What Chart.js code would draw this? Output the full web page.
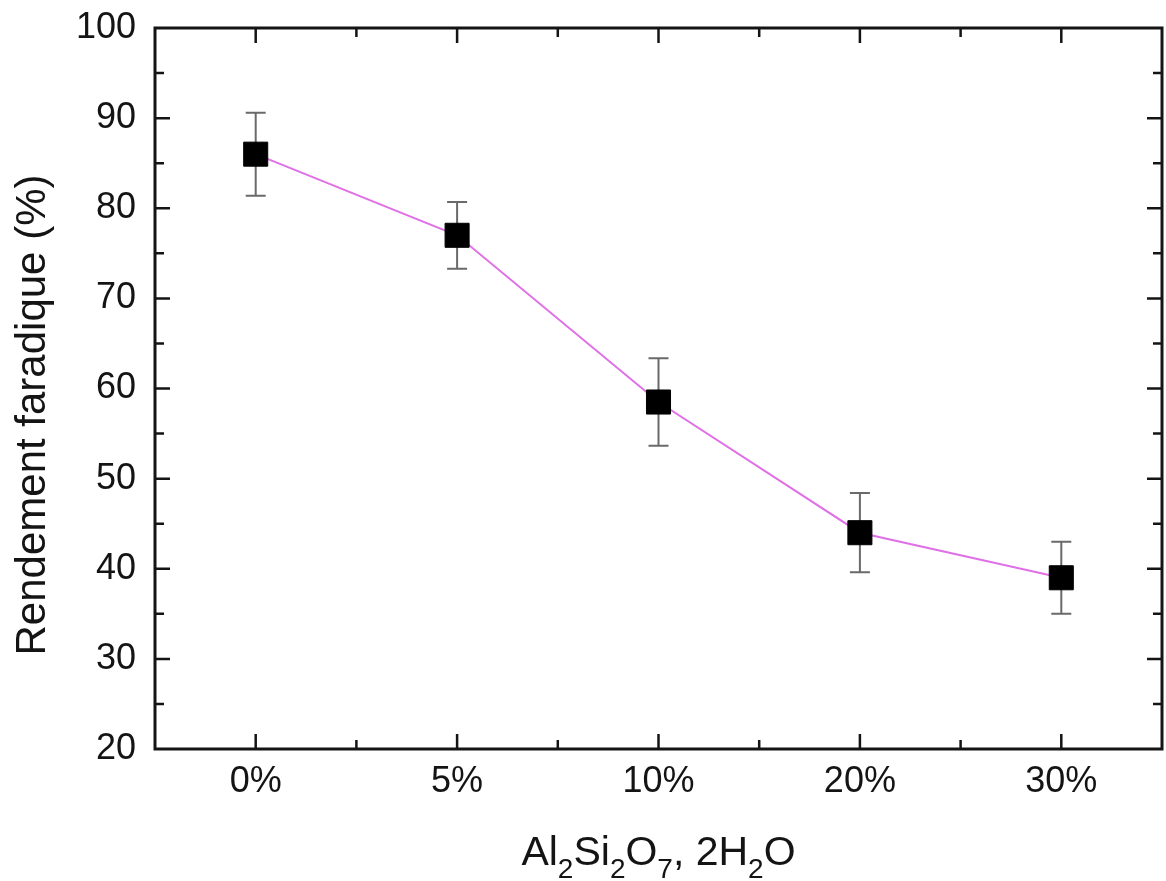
<!DOCTYPE html>
<html>
<head>
<meta charset="utf-8">
<script src="https://cdn.jsdelivr.net/npm/chart.js@4"></script>
<style>
  html, body { margin: 0; padding: 0; background: #fff; overflow: hidden; }
  #wrap { width: 1166px; height: 881px; }
  canvas { display: block; }
</style>
</head>
<body>
<div id="wrap"><canvas id="yield-chart" width="1166" height="881"></canvas></div>
<script>
const categories = ["0%", "5%", "10%", "20%", "30%"];
const yieldValues = [86, 77, 58.5, 44, 39];
const yieldErrors = [4.6, 3.7, 4.85, 4.4, 4];
const yMin = 20;
const yMax = 100;
const yStep = 10;

const FONT = "'Liberation Sans', Arial, sans-serif";
const INK = "#141414";

// error bars, drawn between the line and the square markers
const errorBars = {
  id: "errorBars",
  beforeDatasetDraw(chart, args) {
    if (args.index !== 0) return;
    const { ctx, scales } = chart;
    ctx.save();
    ctx.strokeStyle = "#6a6a6a";
    ctx.lineWidth = 2;
    yieldValues.forEach((v, i) => {
      const px = scales.x.getPixelForValue(i);
      const top = scales.y.getPixelForValue(v + yieldErrors[i]);
      const bot = scales.y.getPixelForValue(v - yieldErrors[i]);
      ctx.beginPath();
      ctx.moveTo(px, top);
      ctx.lineTo(px, bot);
      ctx.moveTo(px - 10, top);
      ctx.lineTo(px + 10, top);
      ctx.moveTo(px - 10, bot);
      ctx.lineTo(px + 10, bot);
      ctx.stroke();
    });
    ctx.restore();
  },
};

// closed frame with inward ticks on all four sides, plus the axis titles
const frame = {
  id: "frame",
  afterDraw(chart) {
    const { ctx, chartArea: a, scales } = chart;
    ctx.save();
    ctx.strokeStyle = INK;
    ctx.lineWidth = 3;
    ctx.strokeRect(a.left, a.top, a.right - a.left, a.bottom - a.top);

    ctx.lineWidth = 2.5;
    ctx.beginPath();
    for (let i = 0; i < categories.length; i++) {
      const px = scales.x.getPixelForValue(i);
      ctx.moveTo(px, a.bottom);
      ctx.lineTo(px, a.bottom - 15);
      ctx.moveTo(px, a.top);
      ctx.lineTo(px, a.top + 15);
      if (i < categories.length - 1) {
        const mx = scales.x.getPixelForValue(i + 0.5);
        ctx.moveTo(mx, a.bottom);
        ctx.lineTo(mx, a.bottom - 9);
        ctx.moveTo(mx, a.top);
        ctx.lineTo(mx, a.top + 9);
      }
    }
    for (let v = yMin + yStep / 2; v < yMax; v += yStep / 2) {
      const py = scales.y.getPixelForValue(v);
      const len = v % yStep === 0 ? 15 : 9;
      ctx.moveTo(a.left, py);
      ctx.lineTo(a.left + len, py);
      ctx.moveTo(a.right, py);
      ctx.lineTo(a.right - len, py);
    }
    ctx.stroke();

    ctx.fillStyle = INK;
    // y title
    ctx.save();
    ctx.translate(33, 415);
    ctx.rotate(-Math.PI / 2);
    ctx.font = "42px " + FONT;
    ctx.textAlign = "center";
    ctx.textBaseline = "middle";
    ctx.fillText("Rendement faradique (%)", 0, 0);
    ctx.restore();

    // x title with subscripts
    const parts = [
      ["Al", 0], ["2", 1], ["Si", 0], ["2", 1], ["O", 0], ["7", 1],
      [", 2H", 0], ["2", 1], ["O", 0],
    ];
    const bigFont = "41px " + FONT;
    const subFont = "28px " + FONT;
    let total = 0;
    parts.forEach(([t, sub]) => {
      ctx.font = sub ? subFont : bigFont;
      total += ctx.measureText(t).width;
    });
    let cx = (a.left + a.right) / 2 - total / 2;
    const base = 865;
    ctx.textAlign = "left";
    ctx.textBaseline = "alphabetic";
    parts.forEach(([t, sub]) => {
      ctx.font = sub ? subFont : bigFont;
      ctx.fillText(t, cx, sub ? base + 13 : base);
      cx += ctx.measureText(t).width;
    });
    ctx.restore();
  },
};

const chartCanvas = document.getElementById("yield-chart");
new Chart(chartCanvas, {
  type: "line",
  data: {
    labels: categories,
    datasets: [
      {
        label: "markers",
        data: yieldValues,
        showLine: false,
        pointStyle: "rect",
        pointRadius: 17,
        pointBackgroundColor: "#000",
        pointBorderColor: "#000",
        pointBorderWidth: 1,
      },
      {
        label: "trend",
        data: yieldValues,
        borderColor: "#e070e6",
        borderWidth: 2,
        pointRadius: 0,
        tension: 0,
      },
    ],
  },
  plugins: [errorBars, frame],
  options: {
    responsive: false,
    animation: false,
    devicePixelRatio: 1,
    layout: {
      autoPadding: false,
      padding: { top: 28, right: 4, left: 0, bottom: 0 },
    },
    plugins: {
      legend: { display: false },
      tooltip: { enabled: false },
    },
    scales: {
      x: {
        type: "category",
        offset: true,
        grid: { display: false, drawTicks: false },
        border: { display: false },
        ticks: {
          padding: 11,
          color: INK,
          font: { size: 36, family: FONT },
        },
        afterFit: (scale) => {
          scale.height = 132;
          scale.paddingLeft = 0;
          scale.paddingRight = 0;
        },
      },
      y: {
        min: yMin,
        max: yMax,
        grid: { display: false, drawTicks: false },
        border: { display: false },
        ticks: {
          stepSize: yStep,
          padding: 19,
          color: INK,
          font: { size: 36, family: FONT },
        },
        afterFit: (scale) => {
          scale.width = 155;
          scale.paddingTop = 0;
          scale.paddingBottom = 0;
        },
      },
    },
  },
});
</script>
</body>
</html>
